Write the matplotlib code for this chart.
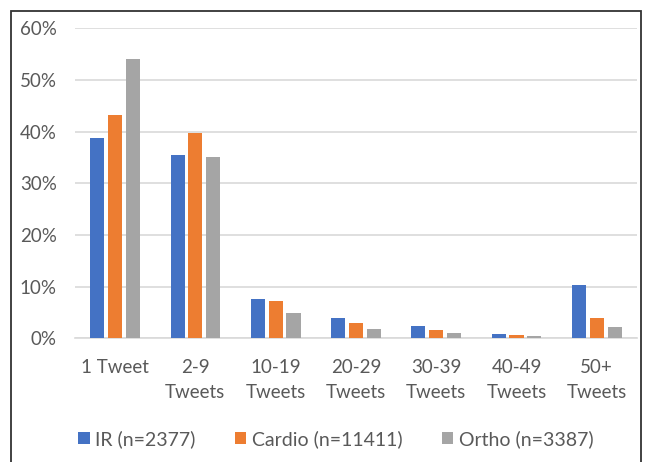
import matplotlib
matplotlib.use("Agg")
from matplotlib import pyplot as plt
from matplotlib.patches import Rectangle
from matplotlib.ticker import PercentFormatter
import numpy as np

# tweet count buckets and share of authors per specialty
categories = ["1 Tweet", "2-9\nTweets", "10-19\nTweets", "20-29\nTweets",
              "30-39\nTweets", "40-49\nTweets", "50+\nTweets"]
ir = [38.7, 35.5, 7.5, 4.0, 2.3, 0.9, 10.3]
cardio = [43.1, 39.7, 7.2, 3.0, 1.5, 0.7, 4.0]
ortho = [54.1, 35.1, 4.8, 1.8, 1.1, 0.5, 2.1]

series = [("IR (n=2377)", ir, "#4472C4"),
          ("Cardio (n=11411)", cardio, "#ED7D31"),
          ("Ortho (n=3387)", ortho, "#A5A5A5")]

plt.rcParams['font.family'] = ['Lato', 'DejaVu Sans']
text_col = "#595959"

fig = plt.figure(figsize=(6.46, 4.62), dpi=100)
ax = fig.add_axes([0.116, 0.268, 0.870, 0.671])

x = np.arange(len(categories))
step = 0.222
width = 0.175
for i, (name, vals, col) in enumerate(series):
  ax.bar(x + (i - 1) * step, vals, width, color=col, label=name, zorder=3)

ax.set_ylim(0, 60)
ax.set_xlim(-0.5, len(categories) - 0.5)
ax.set_yticks(np.arange(0, 61, 10))
ax.yaxis.set_major_formatter(PercentFormatter(decimals=0))
ax.grid(axis="y", color="#D9D9D9", linewidth=1.2, zorder=0)
for s in ["top", "right", "left"]:
  ax.spines[s].set_visible(False)
ax.spines["bottom"].set_color("#D9D9D9")
ax.spines["bottom"].set_linewidth(1.2)
ax.tick_params(axis="both", length=0, labelsize=13.5, colors=text_col)
ax.tick_params(axis="y", pad=13)
ax.tick_params(axis="x", pad=15)
ax.set_xticks(x)
ax.set_xticklabels(categories, linespacing=1.6, va="top")

fig.legend(loc="center", bbox_to_anchor=(0.52, 0.05), ncol=3, frameon=False,
           fontsize=14, handlelength=0.6, handleheight=0.6, handletextpad=0.3,
           columnspacing=2.0, labelcolor=text_col)

# outer frame around the chart
fig.patches.append(Rectangle((0.017, -0.05), 0.975, 1.026, transform=fig.transFigure,
                             fill=False, edgecolor="#333333", linewidth=1.3))

fig.savefig("out.png", dpi=100)
